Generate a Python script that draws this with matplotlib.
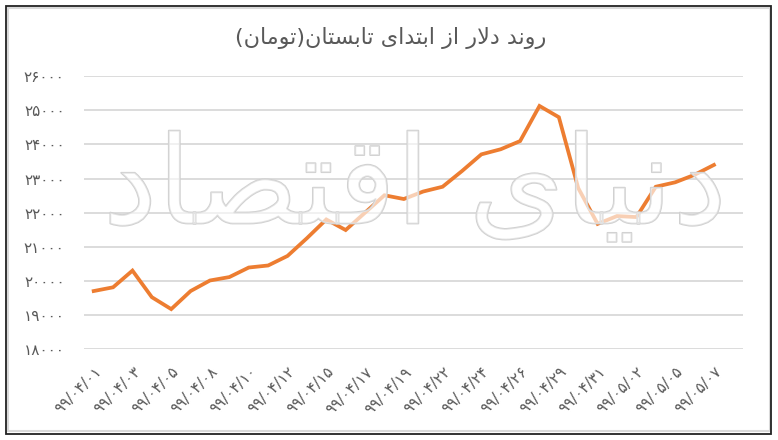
import matplotlib
matplotlib.use("Agg")
import matplotlib.pyplot as plt
import matplotlib.patheffects as pe
from matplotlib.patches import Rectangle

# قیمت دلار (تومان) از ابتدای تابستان ۹۹
values = [19700, 19810, 20300, 19520, 19170, 19700, 20010, 20110, 20390, 20450,
          20730, 21250, 21800, 21490, 22000, 22510, 22400, 22620, 22760, 23220,
          23710, 23860, 24100, 25130, 24800, 22720, 21670, 21900, 21870, 22760,
          22890, 23110, 23400]
tick_labels = ["99/04/01", "99/04/03", "99/04/05", "99/04/08", "99/04/10", "99/04/12",
               "99/04/15", "99/04/17", "99/04/19", "99/04/22", "99/04/24", "99/04/26",
               "99/04/29", "99/04/31", "99/05/02", "99/05/05", "99/05/07"]
y_ticks = [18000, 19000, 20000, 21000, 22000, 23000, 24000, 25000, 26000]
title = "روند دلار از ابتدای تابستان(تومان)"
watermark = "دنیای اقتصاد"

fa_digits = str.maketrans("0123456789", "۰۱۲۳۴۵۶۷۸۹")

# حروف عربی/فارسی -> (تنها، پایانی، آغازی، میانی)
forms = {
    "ا": ("\uFE8D", "\uFE8E", None, None),
    "ب": ("\uFE8F", "\uFE90", "\uFE91", "\uFE92"),
    "ت": ("\uFE95", "\uFE96", "\uFE97", "\uFE98"),
    "د": ("\uFEA9", "\uFEAA", None, None),
    "ر": ("\uFEAD", "\uFEAE", None, None),
    "ز": ("\uFEAF", "\uFEB0", None, None),
    "س": ("\uFEB1", "\uFEB2", "\uFEB3", "\uFEB4"),
    "ص": ("\uFEB9", "\uFEBA", "\uFEBB", "\uFEBC"),
    "ق": ("\uFED5", "\uFED6", "\uFED7", "\uFED8"),
    "ل": ("\uFEDD", "\uFEDE", "\uFEDF", "\uFEE0"),
    "م": ("\uFEE1", "\uFEE2", "\uFEE3", "\uFEE4"),
    "ن": ("\uFEE5", "\uFEE6", "\uFEE7", "\uFEE8"),
    "و": ("\uFEED", "\uFEEE", None, None),
    "ی": ("\uFEEF", "\uFEF0", "\uFEF3", "\uFEF4"),
}


def shape(text):
    # چسباندن حروف و برگرداندن ترتیب برای نمایش چپ به راست
    out = []
    i = 0
    n = len(text)
    while i < n:
        c = text[i]
        if c not in forms:
            out.append(c)
            i += 1
            continue
        prev = text[i - 1] if i > 0 else ""
        prev_join = prev in forms and forms[prev][2] is not None
        if c == "ل" and i + 1 < n and text[i + 1] == "ا":
            out.append("\uFEFC" if prev_join else "\uFEFB")
            i += 2
            continue
        nxt = text[i + 1] if i + 1 < n else ""
        next_join = forms[c][2] is not None and nxt in forms
        if prev_join and next_join:
            out.append(forms[c][3])
        elif prev_join:
            out.append(forms[c][1])
        elif next_join:
            out.append(forms[c][2])
        else:
            out.append(forms[c][0])
        i += 1
    s = "".join(out)[::-1]
    return s.translate(str.maketrans("()", ")("))


plt.rcParams["font.family"] = ["DejaVu Sans"]
fig = plt.figure(figsize=(7.78, 4.40), dpi=100)

# کادر دور نمودار
fig.patches.append(Rectangle((8 / 778, 9 / 440), 762 / 778, 423 / 440, transform=fig.transFigure,
                             fill=False, edgecolor="#d9d9d9", linewidth=1.5))
fig.patches.append(Rectangle((6.5 / 778, 6 / 440), 764.5 / 778, 428 / 440, transform=fig.transFigure,
                             fill=False, edgecolor="#222222", linewidth=1.3))

ax = fig.add_axes([84 / 778, 91 / 440, 659 / 778, 272.7 / 440])
x = list(range(len(values)))
ax.plot(x, values, color="#ED7D31", linewidth=2.7, solid_joinstyle="miter", zorder=3)

ax.set_xlim(-0.5, len(values) + 0.5)
ax.set_ylim(18000, 26000)
ax.set_yticks(y_ticks)
ax.set_yticklabels([str(v).translate(fa_digits) for v in y_ticks], color="#595959", fontsize=11)
ax.set_xticks(range(0, len(values), 2))
ax.set_xticklabels([t.translate(fa_digits) for t in tick_labels], rotation=45, ha="right",
                   rotation_mode="anchor", color="#595959", fontsize=11)
ax.tick_params(axis="both", length=0)
ax.tick_params(axis="y", pad=14)
ax.tick_params(axis="x", pad=11)
ax.grid(axis="y", color="#d9d9d9", linewidth=1.3)
ax.set_axisbelow(True)
for s in ax.spines.values():
    s.set_visible(False)

fig.text(391 / 778, 1 - 38 / 440, shape(title), ha="center", va="center", fontsize=16, color="#595959")

# واترمارک
fig.text(415 / 778, 1 - 190 / 440, shape(watermark), ha="center", va="center", fontsize=88,
         color=(1, 1, 1, 0.4), zorder=5,
         path_effects=[pe.withStroke(linewidth=1.3, foreground="#d0d0d0")])

fig.savefig("out.png", dpi=100)
